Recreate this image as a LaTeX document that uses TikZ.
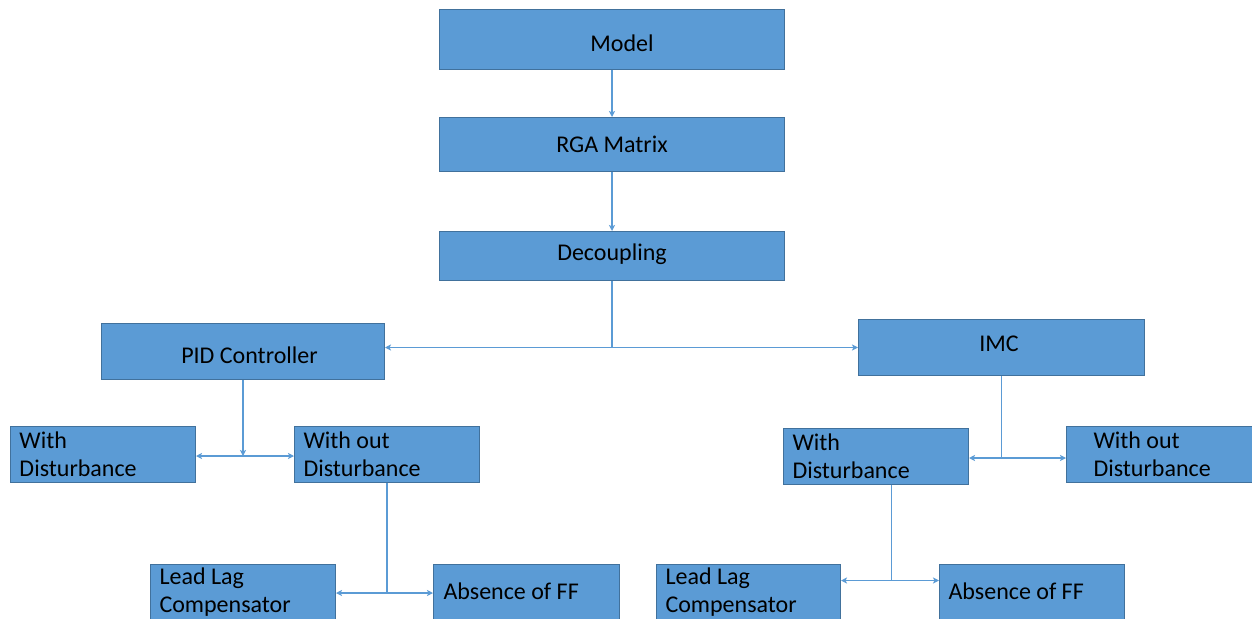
\documentclass[tikz,border=0pt]{standalone}
\usepackage{fontspec}
\setmainfont{Carlito}
\usetikzlibrary{arrows.meta,calc}
\definecolor{boxfill}{HTML}{5B9BD5}
\definecolor{boxline}{HTML}{41719C}
\definecolor{connc}{HTML}{5B9BD5}
\begin{document}
\begin{tikzpicture}[x=1pt,y=-1pt,
  box/.style={draw=boxline, fill=boxfill, line width=1pt, inner sep=0pt,
    anchor=north west, font=\fontsize{24}{28}\selectfont, text=black},
  one/.style 2 args={box, minimum width=#1, minimum height=#2},
  base/.style={text height=12pt+#1pt, text depth=12pt-#1pt},
  two/.style 2 args={box, minimum width=#1, minimum height=#2, align=left,
    inner xsep=9pt, text width=#1pt-18pt,
    execute at begin node={\spaceskip=0.226em\relax\xspaceskip=0.226em\relax}},
  line/.style={draw=connc, line width=1.2pt},
  conn/.style={line, -{Stealth[length=6pt,width=6pt,inset=1.5pt]}},
]
\useasboundingbox (0,0) rectangle (1252,618);
\fill[white] (0,0) rectangle (1252,618);
\clip (0,0) rectangle (1252,618);

% top chain
\node[one={345}{60}, base=12] (model) at (439,9) {\hspace*{20pt}Model};
\node[one={345}{54}, base=7.7] (rga) at (439,117) {RGA Matrix};
\node[one={345}{49}, base=4.5] (dec) at (439,231) {Decoupling};

% controllers
\node[one={283}{56}, base=12] (pid) at (101,323) {\hspace*{13pt}PID Controller};
\node[one={286}{56}, base=4] (imc) at (858,319) {IMC\hspace*{5pt}};

% second level
\node[two={185}{56}] (wdL) at (10,426) {With\\Disturbance};
\node[two={185}{56}] (woL) at (294,426) {With out\\Disturbance};
\node[two={185}{56}] (wdR) at (783,428) {With\\Disturbance};
\node[two={186}{56}, inner xsep=27pt, text width=132pt] (woR) at (1066,426) {With out\\Disturbance};

% third level
\node[two={185}{56}] (llL) at (150,564) {Lead Lag\\Compensator};
\node[two={186}{56}, text height=19pt, text depth=5pt, inner xsep=10pt, text width=166pt] (abL) at (433,564) {Absence of FF};
\node[two={184}{56}] (llR) at (656,564) {Lead Lag\\Compensator};
\node[two={185}{56}, text height=19pt, text depth=5pt] (abR) at (939,564) {Absence of FF};

% connectors
\draw[conn] (model.south) -- (rga.north);
\draw[conn] (rga.south) -- (dec.north);

\coordinate (j1) at ($(dec.south)+(0,66.5)$);
\draw[line] (dec.south) -- (j1);
\draw[conn] (j1) -- (j1 -| pid.east);
\draw[conn] (j1) -- (j1 -| imc.west);

\coordinate (j2) at ($(pid.south)+(0,76)$);
\draw[conn] (pid.south) -- (j2);
\draw[conn] (j2) -- (j2 -| wdL.east);
\draw[conn] (j2) -- (j2 -| woL.west);

\coordinate (j3) at ($(imc.south)+(0,82)$);
\draw[line] (imc.south) -- (j3);
\draw[conn] (j3) -- (j3 -| wdR.east);
\draw[conn] (j3) -- (j3 -| woR.west);

\coordinate (j4) at ($(woL.south)+(0,110)$);
\draw[line] (woL.south) -- (j4);
\draw[conn] (j4) -- (j4 -| llL.east);
\draw[conn] (j4) -- (j4 -| abL.west);

\coordinate (s5) at ($(wdR.south)+(15.5,0)$);
\coordinate (j5) at ($(s5)+(0,95.5)$);
\draw[line] (s5) -- (j5);
\draw[conn] (j5) -- (j5 -| llR.east);
\draw[conn] (j5) -- (j5 -| abR.west);
\end{tikzpicture}
\end{document}
